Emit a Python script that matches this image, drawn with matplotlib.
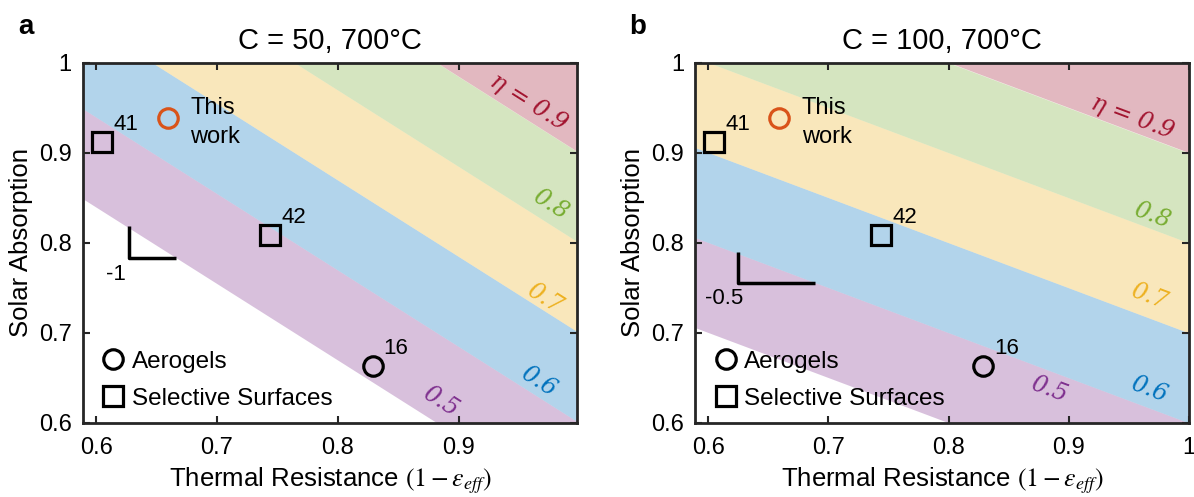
import numpy as np
import matplotlib
matplotlib.use("Agg")
import matplotlib.pyplot as plt
from matplotlib.lines import Line2D

plt.rcParams['font.family'] = ['Liberation Sans', 'DejaVu Sans']
plt.rcParams['mathtext.fontset'] = 'stix'

# efficiency contour boundaries, value of alpha at the left edge and at x = 1
x_edges = [0.589, 1.0]
levels = [0.5, 0.6, 0.7, 0.8, 0.9]
a_left = [0.849, 0.949, 1.049, 1.149, 1.249]
b_left = [0.706, 0.806, 0.906, 1.006, 1.106]
right_vals = [0.5, 0.6, 0.7, 0.8, 0.9]

band_colors = ['#7e2f8e', '#0072bd', '#edb120', '#77ac30', '#a2142f']
band_labels = ['0.5', '0.6', '0.7', '0.8', 'η = 0.9']
a_label_pos = [(0.885, 0.624), (0.966, 0.646), (0.971, 0.738), (0.976, 0.843), (0.958, 0.956)]
b_label_pos = [(0.884, 0.637), (0.967, 0.637), (0.967, 0.740), (0.969, 0.831), (0.953, 0.939)]

# literature points
aerogel_x = [0.829]
aerogel_y = [0.663]
aerogel_ref = ['16']
selective_x = [0.605, 0.744]
selective_y = [0.912, 0.809]
selective_ref = ['41', '42']
this_work_x = [0.659]
this_work_y = [0.939]

# slope guide (corner x, corner y, top y, right x)
a_slope = [0.627, 0.783, 0.819, 0.666]
b_slope = [0.6245, 0.7555, 0.790, 0.689]

titles = ['C = 50, 700°C', 'C = 100, 700°C']
slope_text = ['-1', '-0.5']
a_ticks = [0.6, 0.7, 0.8, 0.9]
b_ticks = [0.6, 0.7, 0.8, 0.9, 1.0]
y_ticks = [0.6, 0.7, 0.8, 0.9, 1.0]

fig = plt.figure(figsize=(11.94, 4.97), dpi=100)
ax_a = fig.add_axes([0.0695, 0.149, 0.4137, 0.7243])
ax_b = fig.add_axes([0.5821, 0.149, 0.4137, 0.7243])

setups = [
    (ax_a, a_left, a_label_pos, a_slope, (0.589, 0.998), a_ticks),
    (ax_b, b_left, b_label_pos, b_slope, (0.589, 1.0), b_ticks),
]

for i, (ax, lefts, lab_pos, slope, xlim, xt) in enumerate(setups):
    # bands between successive boundaries
    for j in range(len(levels)):
        lower = [lefts[j], right_vals[j]]
        if j + 1 < len(levels):
            upper = [lefts[j + 1], right_vals[j + 1]]
        else:
            upper = [1.6, 1.6]
        ax.fill_between(x_edges, lower, upper, color=band_colors[j], alpha=0.3,
                        linewidth=0, zorder=1)
    k = (lefts[0] - right_vals[0]) / (x_edges[1] - x_edges[0])
    ang = np.degrees(np.arctan(-k))
    for j, (lx, ly) in enumerate(lab_pos):
        ax.text(lx, ly, band_labels[j], color=band_colors[j], fontsize=17,
                family='DejaVu Serif', fontstyle='italic', rotation=ang,
                transform_rotates_text=True, rotation_mode='anchor',
                ha='center', va='center', zorder=3)

    ax.plot(aerogel_x, aerogel_y, 'o', mfc='none', mec='black', ms=14, mew=2.3, zorder=4)
    ax.plot(selective_x, selective_y, 's', mfc='none', mec='black', ms=14, mew=2.3, zorder=4)
    ax.plot(this_work_x, this_work_y, 'o', mfc='none', mec='#d95319', ms=14, mew=2.3, zorder=4)
    for x, y, r in zip(aerogel_x + selective_x, aerogel_y + selective_y, aerogel_ref + selective_ref):
        ax.text(x + 0.009, y + 0.008, r, fontsize=16, ha='left', va='bottom', zorder=4)
    ax.text(this_work_x[0] + 0.019, this_work_y[0] - 0.005, 'This\nwork', fontsize=17,
            ha='left', va='center', linespacing=1.45, zorder=4)

    cx, cy, ty, rx = slope
    ax.plot([cx, cx, rx], [ty, cy, cy], color='black', lw=2.5, solid_capstyle='butt', zorder=4)
    ax.text(cx - 0.011, cy - 0.006, slope_text[i], fontsize=16, ha='center', va='top')

    handles = [
        Line2D([], [], marker='o', ls='none', mfc='none', mec='black', ms=14, mew=2.3),
        Line2D([], [], marker='s', ls='none', mfc='none', mec='black', ms=14, mew=2.3),
    ]
    ax.legend(handles, ['Aerogels', 'Selective Surfaces'], loc='lower left',
              frameon=False, fontsize=17.5, handlelength=0.8, handletextpad=0.35,
              labelspacing=0.6, borderaxespad=0.15, bbox_to_anchor=(0.015, 0.0))

    ax.set_xticks(xt)
    ax.set_xticklabels(['%g' % t for t in xt])
    ax.set_yticks(y_ticks)
    ax.set_yticklabels(['%g' % t for t in y_ticks])
    ax.set_xlim(*xlim)
    ax.set_ylim(0.6, 1.0)
    ax.tick_params(direction='in', top=True, right=True, labelsize=17,
                   length=5, width=1.5, color='#262626', pad=8)
    ax.tick_params(axis='x', pad=10)
    for sp in ax.spines.values():
        sp.set_linewidth(2)
        sp.set_color('#262626')
    ax.set_xlabel('Thermal Resistance $(1-\\varepsilon_{eff})$', fontsize=18.5, labelpad=5)
    ax.set_ylabel('Solar Absorption', fontsize=18.5, labelpad=4)
    ax.set_title(titles[i], fontsize=21, pad=10)

fig.text(0.015, 0.945, 'a', fontsize=20, fontweight='bold', va='center')
fig.text(0.527, 0.945, 'b', fontsize=20, fontweight='bold', va='center')

fig.savefig('out.png', dpi=100)
